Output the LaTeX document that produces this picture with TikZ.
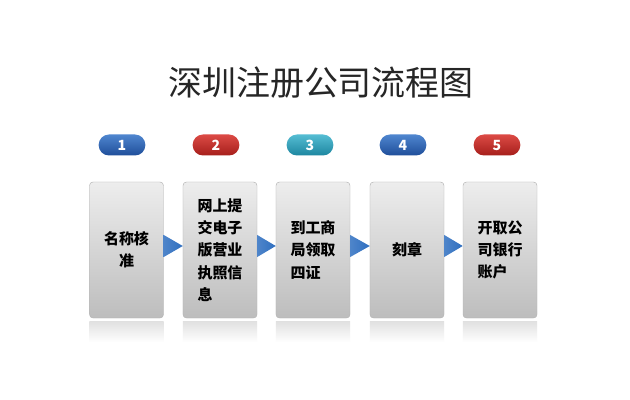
\documentclass[tikz,border=0pt]{standalone}
\usepackage{fontspec}
\setmainfont{Noto Sans CJK SC}
\usetikzlibrary{calc}

\definecolor{boxtop}{HTML}{EDEDED}
\definecolor{boxbot}{HTML}{BDBDBD}
\definecolor{boxedge}{HTML}{B4B4B4}
\definecolor{blueA}{HTML}{4F86CF}
\definecolor{blueB}{HTML}{1F4E9A}
\definecolor{redA}{HTML}{DC4A45}
\definecolor{redB}{HTML}{A61F1B}
\definecolor{tealA}{HTML}{55BDD3}
\definecolor{tealB}{HTML}{1D86A0}
\definecolor{tipblue}{HTML}{2F6FC0}

\tikzset{
    stepbox/.style={draw=boxedge, rounded corners=3pt, top color=boxtop, bottom color=boxbot,
        minimum width=2.22cm, minimum height=4.08cm, inner sep=0pt,
        font=\bfseries\fontsize{12.8}{19}\selectfont},
    numpill/.style={rounded corners=0.31cm, minimum width=1.4cm, minimum height=0.63cm,
        inner sep=0pt, text=white, font=\bfseries\fontsize{12}{12}\selectfont},
    flowtip/.style={left color=tipblue!85, right color=tipblue},
    mirror/.style={top color=black!12, bottom color=white}
}

\begin{document}
\begin{tikzpicture}[x=0.03cm, y=-0.03cm]
    \useasboundingbox [fill = white] (0, 0) rectangle (630, 400);

    \node [font=\fontsize{29}{29}\selectfont, text=black!85] (title) at (321, 83) {深圳注册公司流程图};

    % steps
    \node [stepbox, align=center] (b1) at (126.5, 250) {名称核\\准};
    \node [stepbox, align=left] (b2) at (220, 250) {网上提\\交电子\\版营业\\执照信\\息};
    \node [stepbox, align=left] (b3) at (313, 250) {到工商\\局领取\\四证};
    \node [stepbox, align=center] (b4) at (407, 250) {刻章};
    \node [stepbox, align=left] (b5) at (500, 250) {开取公\\司银行\\账户};

    % numbers
    \node [numpill, top color=blueA, bottom color=blueB] (n1) at (122, 145) {1};
    \node [numpill, top color=redA, bottom color=redB] (n2) at (216, 145) {2};
    \node [numpill, top color=tealA, bottom color=tealB] (n3) at (310, 145) {3};
    \node [numpill, top color=blueA, bottom color=blueB] (n4) at (403, 145) {4};
    \node [numpill, top color=redA, bottom color=redB] (n5) at (497, 145) {5};

    % arrows
    \shade [flowtip] ($(b1.east) + (0, -15)$) -- ($(b2.west) + (0, -4)$) -- ($(b1.east) + (0, 7)$) -- cycle;
    \shade [flowtip] ($(b2.east) + (0, -15)$) -- ($(b3.west) + (0, -4)$) -- ($(b2.east) + (0, 7)$) -- cycle;
    \shade [flowtip] ($(b3.east) + (0, -15)$) -- ($(b4.west) + (0, -4)$) -- ($(b3.east) + (0, 7)$) -- cycle;
    \shade [flowtip] ($(b4.east) + (0, -15)$) -- ($(b5.west) + (0, -4)$) -- ($(b4.east) + (0, 7)$) -- cycle;

    % reflections
    \foreach \b in {b1, b2, b3, b4, b5}
        \shade [mirror] ($(\b.south west) + (0, 3)$) rectangle ($(\b.south east) + (0, 24)$);
\end{tikzpicture}
\end{document}
